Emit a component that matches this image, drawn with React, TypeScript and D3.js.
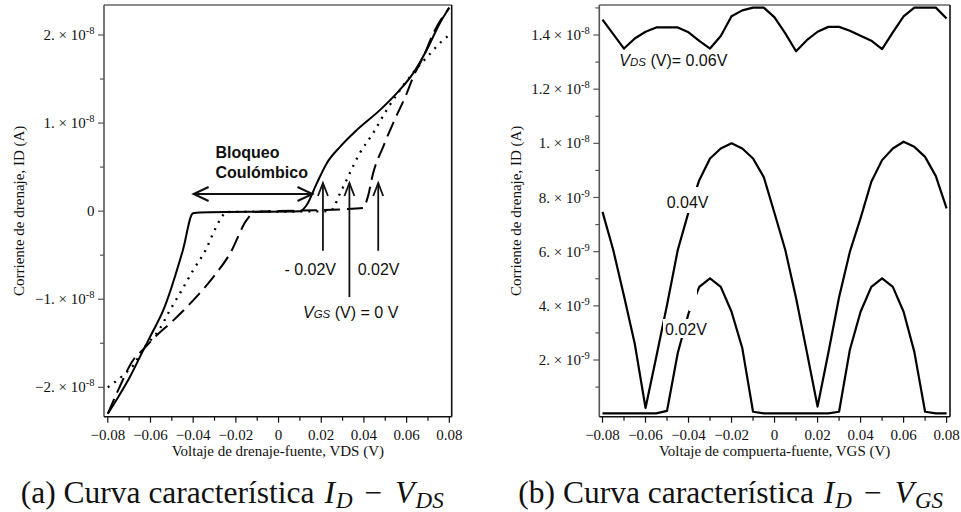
import React from "react";
import * as d3 from "d3";

type Pt = [number, number];

// (a) I_D – V_DS characteristic, one curve per gate voltage
const idVdsGateMinus002: Pt[] = [
  [-0.08, -2.3e-8], [-0.0751, -2.11e-8], [-0.0696, -1.88e-8], [-0.0634, -1.58e-8],
  [-0.0594, -1.39e-8], [-0.054, -1.125e-8], [-0.0448, -0.44e-8], [-0.0401, -0.023e-8],
  [-0.0368, -0.015e-8], [0.0101, 0.0], [0.0132, 0.07e-8], [0.0179, 0.315e-8],
  [0.0226, 0.545e-8], [0.0288, 0.73e-8], [0.0366, 0.92e-8], [0.0476, 1.15e-8],
  [0.0554, 1.34e-8], [0.0632, 1.57e-8], [0.0694, 1.83e-8], [0.0757, 2.14e-8], [0.08, 2.31e-8],
];
const idVdsGateZero: Pt[] = [
  [-0.08, -2.0e-8], [-0.0727, -1.86e-8], [-0.068, -1.75e-8], [-0.0635, -1.57e-8],
  [-0.0555, -1.33e-8], [-0.0509, -1.125e-8], [-0.0454, -0.9e-8], [-0.04, -0.67e-8],
  [-0.0337, -0.42e-8], [-0.0306, -0.25e-8], [-0.0266, -0.065e-8], [-0.0246, -0.01e-8],
  [0.0241, 0], [0.0265, 0.07e-8], [0.028, 0.16e-8], [0.0311, 0.315e-8], [0.0381, 0.66e-8],
  [0.0443, 0.886e-8], [0.0507, 1.15e-8], [0.0569, 1.375e-8], [0.063, 1.57e-8],
  [0.0711, 1.79e-8], [0.0765, 1.93e-8], [0.08, 2.0e-8],
];
const idVdsGatePlus002: Pt[] = [
  [-0.08, -2.3e-8], [-0.0751, -2.03e-8], [-0.0681, -1.69e-8], [-0.0634, -1.57e-8],
  [-0.0571, -1.41e-8], [-0.0493, -1.24e-8], [-0.0399, -1.01e-8], [-0.0306, -0.75e-8],
  [-0.0227, -0.48e-8], [-0.0149, -0.1e-8], [-0.011, -0.01e-8], [0.0288, 0.02e-8],
  [0.0396, 0.035e-8], [0.0418, 0.16e-8], [0.0443, 0.43e-8], [0.049, 0.73e-8],
  [0.0537, 1.0e-8], [0.0601, 1.34e-8], [0.0632, 1.53e-8], [0.0678, 1.75e-8],
  [0.0725, 2.02e-8], [0.08, 2.31e-8],
];

// (b) I_D – V_GS characteristic, sampled on a common gate-voltage grid
const vgsSamples = [
  -0.08, -0.075, -0.07, -0.065, -0.06, -0.055, -0.05, -0.045, -0.04, -0.035, -0.03,
  -0.025, -0.02, -0.015, -0.01, -0.005, 0, 0.005, 0.01, 0.015, 0.02, 0.025, 0.03,
  0.035, 0.04, 0.045, 0.05, 0.055, 0.06, 0.065, 0.07, 0.075, 0.08,
];
const idVgsVds006 = [
  1.457e-8, 1.403e-8, 1.35e-8, 1.387e-8, 1.412e-8, 1.428e-8, 1.428e-8, 1.428e-8, 1.41e-8,
  1.378e-8, 1.35e-8, 1.396e-8, 1.469e-8, 1.491e-8, 1.501e-8, 1.501e-8, 1.465e-8, 1.406e-8,
  1.34e-8, 1.381e-8, 1.412e-8, 1.43e-8, 1.43e-8, 1.416e-8, 1.397e-8, 1.379e-8, 1.348e-8,
  1.41e-8, 1.469e-8, 1.501e-8, 1.501e-8, 1.501e-8, 1.461e-8,
];
const idVgsVds004 = [
  7.47e-9, 6.06e-9, 4.36e-9, 2.6e-9, 0.23e-9, 2.11e-9, 4.03e-9, 6.06e-9, 7.46e-9, 8.64e-9,
  9.44e-9, 9.81e-9, 10.0e-9, 9.81e-9, 9.44e-9, 8.75e-9, 7.42e-9, 6.06e-9, 4.29e-9, 2.3e-9,
  0.28e-9, 2.26e-9, 4.32e-9, 5.99e-9, 7.24e-9, 8.58e-9, 9.38e-9, 9.81e-9, 10.06e-9,
  9.87e-9, 9.5e-9, 8.79e-9, 7.6e-9,
];
const idVgsVds002 = [
  0.03e-9, 0.03e-9, 0.03e-9, 0.03e-9, 0.03e-9, 0.03e-9, 0.12e-9, 2.26e-9, 3.72e-9, 4.7e-9,
  5.01e-9, 4.7e-9, 3.78e-9, 2.44e-9, 0.09e-9, 0.03e-9, 0.03e-9, 0.03e-9, 0.03e-9, 0.03e-9,
  0.03e-9, 0.03e-9, 0.09e-9, 2.37e-9, 3.78e-9, 4.7e-9, 5.01e-9, 4.7e-9, 3.78e-9, 2.3e-9,
  0.09e-9, 0.03e-9, 0.03e-9,
];

// Axis ticks
const voltTicks = [-0.08, -0.06, -0.04, -0.02, 0, 0.02, 0.04, 0.06, 0.08];
const voltTickLabels = ["−0.08", "−0.06", "−0.04", "−0.02", "0", "0.02", "0.04", "0.06", "0.08"];
const voltMinorTicks = [-0.07, -0.05, -0.03, -0.01, 0.01, 0.03, 0.05, 0.07];
const idVdsTicks = [-2e-8, -1e-8, 0, 1e-8, 2e-8];
const idVdsTickMantissa = ["−2.", "−1.", "0", "1.", "2."];
const idVdsTickExponent = ["-8", "-8", "", "-8", "-8"];
const idVdsMinorTicks = [-1.5e-8, -0.5e-8, 0.5e-8, 1.5e-8];
const idVgsTicks = [2e-9, 4e-9, 6e-9, 8e-9, 1e-8, 1.2e-8, 1.4e-8];
const idVgsTickMantissa = ["2.", "4.", "6.", "8.", "1.", "1.2", "1.4"];
const idVgsTickExponent = ["-9", "-9", "-9", "-9", "-8", "-8", "-8"];
const idVgsMinorTicks = [1e-9, 3e-9, 5e-9, 7e-9, 9e-9, 1.1e-8, 1.3e-8, 1.5e-8];

const SERIF = "'Liberation Serif', 'Times New Roman', serif";
const SANS = "'Liberation Sans', Arial, sans-serif";

type Box = { left: number; right: number; top: number; bottom: number };

function Frame({ box }: { box: Box }) {
  return (
    <g>
      <line x1={box.left} x2={box.right} y1={box.top} y2={box.top} stroke="#666" strokeWidth={1.6} />
      <line x1={box.left} x2={box.left} y1={box.top} y2={box.bottom} stroke="#555" strokeWidth={1.6} />
      <line x1={box.left} x2={box.right} y1={box.bottom} y2={box.bottom} stroke="#111" strokeWidth={1.6} />
      <line x1={box.right} x2={box.right} y1={box.top} y2={box.bottom} stroke="#111" strokeWidth={1.6} />
    </g>
  );
}

function XAxis({ box, x, title }: { box: Box; x: d3.ScaleLinear<number, number>; title: string }) {
  return (
    <g fontFamily={SERIF} fill="#111">
      {voltTicks.map((v, i) => (
        <g key={v}>
          <line x1={x(v)} x2={x(v)} y1={box.bottom} y2={box.bottom + 6} stroke="#111" strokeWidth={1.2} />
          <text x={x(v)} y={box.bottom + 23.5} fontSize={15} textAnchor="middle">
            {voltTickLabels[i]}
          </text>
        </g>
      ))}
      {voltMinorTicks.map((v) => (
        <line key={v} x1={x(v)} x2={x(v)} y1={box.bottom} y2={box.bottom + 4} stroke="#111" strokeWidth={1.2} />
      ))}
      <text x={(box.left + box.right) / 2} y={box.bottom + 39.5} fontSize={15} textAnchor="middle">
        {title}
      </text>
    </g>
  );
}

function YAxis({
  box, y, ticks, mantissa, exponent, minor, title, titleX,
}: {
  box: Box; y: d3.ScaleLinear<number, number>; ticks: number[]; mantissa: string[];
  exponent: string[]; minor: number[]; title: string; titleX: number;
}) {
  const cy = (box.top + box.bottom) / 2;
  return (
    <g fontFamily={SERIF} fill="#111">
      {ticks.map((v, i) => (
        <g key={v}>
          <line x1={box.left - 6} x2={box.left} y1={y(v)} y2={y(v)} stroke="#555" strokeWidth={1.2} />
          <text x={box.left - 9.5} y={y(v) + 5} fontSize={15} textAnchor="end">
            {mantissa[i]}
            {exponent[i] ? (
              <>
                {" × 10"}
                <tspan dy={-6} fontSize={10.5}>{exponent[i]}</tspan>
              </>
            ) : null}
          </text>
        </g>
      ))}
      {minor.map((v) => (
        <line key={v} x1={box.left - 4} x2={box.left} y1={y(v)} y2={y(v)} stroke="#555" strokeWidth={1.2} />
      ))}
      <text transform={`translate(${titleX},${cy}) rotate(-90)`} fontSize={15} textAnchor="middle">
        {title}
      </text>
    </g>
  );
}

function UpArrow({ x, yTip, yBase }: { x: number; yTip: number; yBase: number }) {
  return (
    <g stroke="#111" strokeWidth={1.8} fill="none">
      <line x1={x} x2={x} y1={yBase} y2={yTip} />
      <polyline points={`${x - 5},${yTip + 13} ${x},${yTip} ${x + 5},${yTip + 13}`} />
    </g>
  );
}

function Caption({ x, letter, sub }: { x: number; letter: string; sub: string }) {
  return (
    <text x={x} y={503} fontFamily={SERIF} fontSize={31.5} fill="#111">
      {`(${letter}) Curva característica `}
      <tspan fontStyle="italic" dx={2}>I</tspan>
      <tspan fontStyle="italic" fontSize={23} dx={1} dy={5}>D</tspan>
      <tspan dx={12} dy={-5}>−</tspan>
      <tspan fontStyle="italic" dx={13}>V</tspan>
      <tspan fontStyle="italic" fontSize={23} dx={1} dy={5}>{sub}</tspan>
    </text>
  );
}

export default function App() {
  const boxA: Box = { left: 104, right: 451.7, top: 5, bottom: 416.7 };
  const boxB: Box = { left: 599.3, right: 950, top: 5, bottom: 416.7 };

  const xA = d3.scaleLinear().domain([-0.08, 0.08]).range([107.8, 449.3]);
  const yA = d3.scaleLinear().domain([-2e-8, 2e-8]).range([387.3, 35]);
  const xB = d3.scaleLinear().domain([-0.08, 0.08]).range([602.5, 946.6]);
  const yB = d3.scaleLinear().domain([2e-9, 1.4e-8]).range([360, 35]);

  const lineA = d3
    .line<Pt>()
    .x((d) => xA(d[0]))
    .y((d) => yA(d[1]))
    .curve(d3.curveMonotoneX);
  const lineB = (vals: number[]) =>
    d3
      .line<number>()
      .x((_, i) => xB(vgsSamples[i]))
      .y((d) => yB(d))(vals) ?? "";

  // annotation anchors (in data units of panel a)
  const arrowTipA = yA(0.32e-8);
  const gateArrows = [
    { v: 0.0208, base: yA(-0.45e-8) },
    { v: 0.0332, base: yA(-0.975e-8) },
    { v: 0.0467, base: yA(-0.45e-8) },
  ];
  const blockY = yA(0.195e-8);
  const blockL = xA(-0.0398);
  const blockR = xA(0.0159);

  return (
    <svg
      width={961}
      height={512}
      viewBox="0 0 961 512"
      style={{ position: "absolute", left: 0, top: 0, background: "#fff" }}
    >
      <rect width={961} height={512} fill="#fff" />

      {/* ---------- panel (a) ---------- */}
      <Frame box={boxA} />
      <XAxis box={boxA} x={xA} title="Voltaje de drenaje-fuente, VDS (V)" />
      <YAxis
        box={boxA}
        y={yA}
        ticks={idVdsTicks}
        mantissa={idVdsTickMantissa}
        exponent={idVdsTickExponent}
        minor={idVdsMinorTicks}
        title="Corriente de drenaje, ID (A)"
        titleX={23.5}
      />
      <g fill="none" stroke="#000" strokeWidth={2}>
        <path d={lineA(idVdsGatePlus002) ?? ""} strokeDasharray="16 7" />
        <path d={lineA(idVdsGateZero) ?? ""} strokeDasharray="2 6" strokeWidth={2.3} />
        <path d={lineA(idVdsGateMinus002) ?? ""} />
      </g>

      {/* Coulomb blockade window */}
      <g stroke="#111" strokeWidth={2} fill="none">
        <line x1={blockL} x2={blockR} y1={blockY} y2={blockY} />
        <polyline points={`${blockL + 15},${blockY - 7} ${blockL},${blockY} ${blockL + 15},${blockY + 7}`} />
        <polyline points={`${blockR - 15},${blockY - 7} ${blockR},${blockY} ${blockR - 15},${blockY + 7}`} />
      </g>
      <g fontFamily={SANS} fontWeight="bold" fontSize={16} fill="#111">
        <text x={215.5} y={158}>Bloqueo</text>
        <text x={215.5} y={178}>Coulómbico</text>
      </g>
      {gateArrows.map((a) => (
        <UpArrow key={a.v} x={xA(a.v)} yTip={arrowTipA} yBase={a.base} />
      ))}
      <g fontFamily={SANS} fontSize={16} fill="#111">
        <text x={336} y={275} textAnchor="end">- 0.02V</text>
        <text x={357.7} y={275}>0.02V</text>
        <text x={303} y={318}>
          <tspan fontStyle="italic">V</tspan>
          <tspan fontStyle="italic" fontSize={11.5}>GS</tspan>
          <tspan>{" (V) = 0 V"}</tspan>
        </text>
      </g>

      {/* ---------- panel (b) ---------- */}
      <Frame box={boxB} />
      <XAxis box={boxB} x={xB} title="Voltaje de compuerta-fuente, VGS (V)" />
      <YAxis
        box={boxB}
        y={yB}
        ticks={idVgsTicks}
        mantissa={idVgsTickMantissa}
        exponent={idVgsTickExponent}
        minor={idVgsMinorTicks}
        title="Corriente de drenaje, ID (A)"
        titleX={520.5}
      />
      <g fill="none" stroke="#000" strokeWidth={2.2} strokeLinejoin="round">
        <path d={lineB(idVgsVds006)} />
        <path d={lineB(idVgsVds004)} />
        <path d={lineB(idVgsVds002)} />
      </g>

      {/* label backgrounds interrupt the curves */}
      <rect x={664} y={187} width={47} height={26} fill="#fff" />
      <rect x={689} y={289} width={8} height={22} fill="#fff" />
      <rect x={663} y={319} width={49} height={19} fill="#fff" />
      <g fontFamily={SANS} fontSize={16} fill="#111">
        <text x={619.3} y={65.7}>
          <tspan fontStyle="italic">V</tspan>
          <tspan fontStyle="italic" fontSize={11.5}>DS</tspan>
          <tspan>{" (V)= 0.06V"}</tspan>
        </text>
        <text x={666.7} y={208}>0.04V</text>
        <text x={665} y={335}>0.02V</text>
      </g>

      <Caption x={20.7} letter="a" sub="DS" />
      <Caption x={518.3} letter="b" sub="GS" />
    </svg>
  );
}
